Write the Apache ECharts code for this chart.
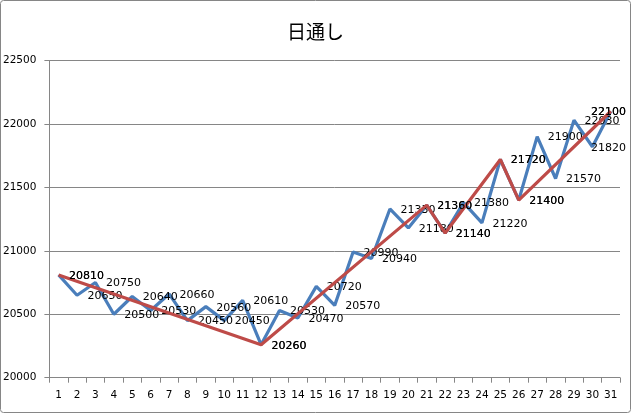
<!DOCTYPE html>
<html><head><meta charset="utf-8">
<script src="https://cdn.jsdelivr.net/npm/echarts@6/dist/echarts.min.js"></script>
<style>html,body{margin:0;padding:0;background:#fff}#c{width:631px;height:413px}</style>
</head><body><div id="c"></div>
<script>
const titleText = "日通し";
const days = ["1","2","3","4","5","6","7","8","9","10","11","12","13","14","15","16","17","18","19","20","21","22","23","24","25","26","27","28","29","30","31"];
const dailyValues = [20810,20650,20750,20500,20640,20530,20660,20450,20560,20450,20610,20260,20530,20470,20720,20570,20990,20940,21330,21180,21360,21140,21380,21220,21720,21400,21900,21570,22030,21820,22100];
const trendDays = ["1","12","21","22","25","26","31"];
const trendValues = [20810,20260,21360,21140,21720,21400,22100];
const yTicks = [20000,20500,21000,21500,22000,22500];

const trendData = days.map(d => {
  const i = trendDays.indexOf(d);
  return i >= 0 ? trendValues[i] : null;
});

const labelStyle = {
  show: true, position: 'right', distance: 9,
  color: '#000', fontFamily: 'DejaVu Sans', fontSize: 11
};
const keepInside = function (p) {
  const r = p.labelRect;
  if (r.x + r.width > 626) return { dx: 626 - (r.x + r.width), dy: 1 };
  return { dy: 1 };
};

const chart = echarts.init(document.getElementById('c'), null, {renderer: 'canvas'});
chart.setOption({
  animation: false,
  backgroundColor: '#fff',
  title: {
    text: titleText, left: 'center', top: 17,
    textStyle: {fontFamily: 'Noto Sans CJK JP', fontSize: 19, fontWeight: 'normal', color: '#000'}
  },
  graphic: [{
    type: 'rect', shape: {x: 0.5, y: 0.5, width: 630, height: 412, r: 3},
    style: {fill: 'none', stroke: '#868686', lineWidth: 1}, silent: true, z: -1
  }],
  grid: {left: 48, right: 11, top: 60.5, bottom: 35.3, containLabel: false},
  xAxis: {
    type: 'category', data: days, boundaryGap: true,
    axisLine: {lineStyle: {color: '#868686', width: 1}},
    axisTick: {show: true, length: 5, lineStyle: {color: '#868686'}},
    axisLabel: {color: '#000', fontFamily: 'DejaVu Sans', fontSize: 10.5, margin: 12, interval: 0},
    splitLine: {show: false}
  },
  yAxis: {
    type: 'value', min: yTicks[0], max: yTicks[yTicks.length - 1], interval: 500,
    axisLine: {show: true, lineStyle: {color: '#868686', width: 1}},
    axisTick: {show: true, length: 5, lineStyle: {color: '#868686'}},
    axisLabel: {color: '#000', fontFamily: 'DejaVu Sans', fontSize: 10.5, margin: 13,
      formatter: v => String(v)},
    splitLine: {show: true, lineStyle: {color: '#868686', width: 1}}
  },
  series: [
    {
      name: 'daily', type: 'line', data: dailyValues,
      symbol: 'circle', symbolSize: 2,
      itemStyle: {color: 'rgba(0,0,0,0)', borderColor: 'rgba(0,0,0,0)'},
      lineStyle: {color: '#4A7EBB', width: 3.2},
      label: labelStyle, labelLayout: keepInside, z: 2
    },
    {
      name: 'trend', type: 'line', data: trendData, connectNulls: true,
      symbol: 'circle', symbolSize: 2,
      itemStyle: {color: 'rgba(0,0,0,0)', borderColor: 'rgba(0,0,0,0)'},
      lineStyle: {color: '#BE4B48', width: 3.2},
      label: labelStyle, labelLayout: keepInside, z: 3
    }
  ]
});
</script></body></html>
